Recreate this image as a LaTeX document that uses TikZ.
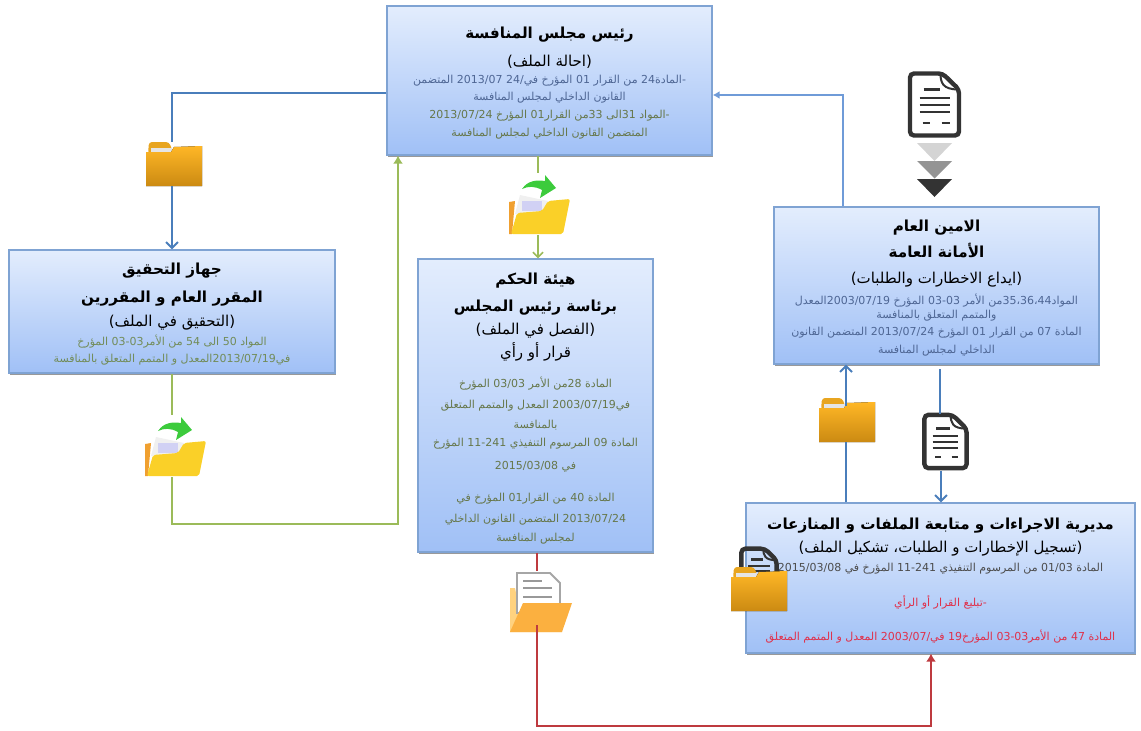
\documentclass[tikz,border=0pt]{standalone}
\usepackage{fontspec}
\usepackage{xcolor}
\usetikzlibrary{shadows,arrows.meta}
\TeXXeTstate=1
\newfontfamily\arfont[Script=Arabic]{DejaVu Sans}
\setlength\lineskiplimit{-100pt}
\setlength\normallineskiplimit{-100pt}
\definecolor{paneltop}{HTML}{E3EDFD}
\definecolor{panelbot}{HTML}{A0C0F6}
\definecolor{panelline}{HTML}{7FA3D3}
\definecolor{linkblue}{HTML}{4A7EBB}
\definecolor{linkpale}{HTML}{6F9BD8}
\definecolor{linkgreen}{HTML}{9BBB59}
\definecolor{linkred}{HTML}{BE3A3F}
\definecolor{txtblue}{HTML}{4E6694}
\definecolor{txtolive}{HTML}{66774A}
\definecolor{txtgreen}{HTML}{728C58}
\definecolor{txtred}{HTML}{E0304A}
\definecolor{docink}{HTML}{333333}
\definecolor{foldtop}{HTML}{FFB726}
\definecolor{foldbot}{HTML}{CB8A12}
\definecolor{foldtab}{HTML}{E8A520}
\definecolor{openyel}{HTML}{FAD028}
\definecolor{openorg}{HTML}{F0A030}
\definecolor{papback}{HTML}{FFD27F}
\definecolor{papfront}{HTML}{FBB040}
\definecolor{arrowgrn}{HTML}{3CCB3C}
\newcommand{\en}[1]{\beginL #1\endL{}}
\newcommand{\ttl}[1]{{\bfseries\fontsize{15.2}{10}\selectfont\rule{0pt}{17pt}#1}}
\newcommand{\sbt}[1]{{\fontsize{15}{10}\selectfont #1}}
\newcommand{\bdy}[2]{{\color{#1}#2}}
\tikzset{
  panel/.style={draw=panelline,line width=1.3pt,top color=paneltop,bottom color=panelbot,
    align=center,inner sep=0pt,drop shadow={shadow xshift=.8pt,shadow yshift=-1.8pt,fill=black,opacity=.4},
    font=\arfont\fontsize{11}{10}\selectfont},
  iconbox/.style={inner sep=0pt,outer sep=0pt},
  bluelink/.style={draw=linkblue,line width=1.9pt,-{Straight Barb[length=6pt,width=12pt]}},
  palelink/.style={draw=linkpale,line width=1.4pt,-{Latex[length=7pt,width=8pt]}},
  greenlink/.style={draw=linkgreen,line width=1.6pt,-{Latex[length=8pt,width=10pt]}},
  barblink/.style={draw=linkgreen,line width=1.6pt,-{Straight Barb[length=5pt,width=10pt]}},
  redlink/.style={draw=linkred,line width=1.6pt,-{Latex[length=8pt,width=10pt]}},
  pics/closedfolder/.style={code={
    \fill[foldtab,rounded corners=3pt] (-26,-10) -- (-25,-22) -- (-5,-22) -- (-1,-12) -- cycle;
    \fill[black!10] (-23,-16) rectangle (-2,-11);
    \fill[top color=foldtop,bottom color=foldbot] (-28,-12) -- (-3,-12) -- (0,-17) -- (28,-18) -- (28,22) -- (-28,22) -- cycle;
  }},
  pics/openfolder/.style={code={
    \fill[openorg] (-31,-2) -- (-25,-3) -- (-28,30) -- (-31,30) -- cycle;
    \fill[black!6] (-20,-9) -- (8,-3) -- (5,8) -- (-25,10) -- cycle;
    \fill[black!25!blue!18] (-18,-3) rectangle (2,7);
    \fill[openyel,rounded corners=2pt]
      (8,-3) -- (30,-5) -- (23,30) -- (-29,30) -- (-23,9) -- (2,7) -- cycle;
    \fill[arrowgrn] (-18,-15) .. controls (-12,-24) and (-3,-24) .. (5,-23) -- (5,-29) -- (16,-16)
      -- (0,-6) -- (2,-14) .. controls (-5,-18) and (-12,-18) .. cycle;
  }},
  pics/paperfolder/.style={code={
    \fill[papback] (-30,-15) -- (-25,-15) -- (-20,10) -- (20,-10) -- (22,29) -- (-30,29) -- cycle;
    \filldraw[draw=black!35,fill=white,line width=1.8pt] (-23,-30) -- (10,-30) -- (20,-20) -- (20,10) -- (-23,10) -- cycle;
    \draw[black!40,line width=1.8pt] (-17,-22) -- (2,-22) (-17,-15) -- (12,-15) (-17,-6) -- (12,-6);
    \fill[papfront] (-17,0) -- (32,0) -- (22,29) -- (-30,29) -- cycle;
  }},
  pics/docicon/.style={code={
    \filldraw[draw=docink,fill=#1,line width=4.4pt,rounded corners=4pt] (-24.5,-31) -- (8,-31) -- (24.5,-15) -- (24.5,31) -- (-24.5,31) -- cycle;
    \draw[docink,line width=2pt] (6,-31) .. controls (6,-22) and (8,-15) .. (24,-15);
    \draw[docink,line width=3pt] (-11,-15.5) -- (5,-15.5);
    \draw[docink,line width=1.9pt] (-15,-6.5) -- (15,-6.5) (-15,.5) -- (15,.5) (-15,7.5) -- (15,7.5);
    \draw[docink,line width=1.9pt] (-12,18.5) -- (-5,18.5) (7,18.5) -- (15,18.5);
  }}
}
\begin{document}
\begin{tikzpicture}[x=1pt,y=-1pt]
    \useasboundingbox (0,0) rectangle (1141,731);
    % panels
    \node[panel,minimum width=325pt,minimum height=149pt] (rais) at (549.5,80.5) {%
      \ttl{\beginR رئيس مجلس المنافسة\endR}\\[18pt]
      \sbt{\beginR (احالة الملف)\endR}\\[7pt]
      \bdy{txtblue}{\beginR -المادة\en{24} من القرار \en{01} المؤرخ في\en{2013/07 /24} المتضمن\endR}\\[7pt]
      \bdy{txtblue}{\beginR القانون الداخلي لمجلس المنافسة\endR}\\[8pt]
      \bdy{txtolive}{\beginR -المواد \en{31}الى \en{33}من القرار\en{01} المؤرخ \en{2013/07/24}\endR}\\[8pt]
      \bdy{txtolive}{\beginR المتضمن القانون الداخلي لمجلس المنافسة\endR}};
    \node[panel,minimum width=326pt,minimum height=123pt] (jihaz) at (172,311.5) {%
      \ttl{\beginR جهاز التحقيق\endR}\\[18pt]
      \ttl{\beginR المقرر العام و المقررين\endR}\\[14pt]
      \sbt{\beginR (التحقيق في الملف)\endR}\\[9pt]
      \bdy{txtgreen}{\beginR المواد \en{50} الى \en{54} من الأمر\en{03-03} المؤرخ\endR}\\[7pt]
      \bdy{txtgreen}{\beginR في\en{2013/07/19}المعدل و المتمم المتعلق بالمنافسة\endR}};
    \node[panel,minimum width=235pt,minimum height=293pt] (hayaa) at (535.5,405.5) {%
      \ttl{\beginR هيئة الحكم\endR}\\[17pt]
      \ttl{\beginR برئاسة رئيس المجلس\endR}\\[13pt]
      \sbt{\beginR (الفصل في الملف)\endR}\\[13pt]
      \sbt{\beginR قرار أو رأي\endR}\\[20pt]
      \bdy{txtolive}{\beginR المادة \en{28}من الأمر \en{03/03} المؤرخ\endR}\\[11pt]
      \bdy{txtolive}{\beginR في\en{2003/07/19} المعدل والمتمم المتعلق\endR}\\[10pt]
      \bdy{txtolive}{\beginR بالمنافسة\endR}\\[8pt]
      \bdy{txtolive}{\beginR المادة \en{09} المرسوم التنفيذي \en{11-241} المؤرخ\endR}\\[13pt]
      \bdy{txtolive}{\beginR في \en{2015/03/08}\endR}\\[22pt]
      \bdy{txtolive}{\beginR المادة \en{40} من القرار\en{01} المؤرخ في\endR}\\[11pt]
      \bdy{txtolive}{\beginR \en{2013/07/24} المتضمن القانون الداخلي\endR}\\[9pt]
      \bdy{txtolive}{\beginR لمجلس المنافسة\endR}};
    \node[panel,minimum width=325pt,minimum height=157pt] (amin) at (936.5,285.5) {%
      \ttl{\beginR الامين العام\endR}\\[16pt]
      \ttl{\beginR الأمانة العامة\endR}\\[16pt]
      \sbt{\beginR (ايداع الاخطارات والطلبات)\endR}\\[11pt]
      \bdy{txtblue}{\beginR المواد\en{35،36،44}من الأمر \en{03-03} المؤرخ \en{2003/07/19}المعدل\endR}\\[4pt]
      \bdy{txtblue}{\beginR والمتمم المتعلق بالمنافسة\endR}\\[7pt]
      \bdy{txtblue}{\beginR المادة \en{07} من القرار \en{01} المؤرخ \en{2013/07/24} المتضمن القانون\endR}\\[8pt]
      \bdy{txtblue}{\beginR الداخلي لمجلس المنافسة\endR}};
    \node[panel,minimum width=389pt,minimum height=150pt] (mudir) at (940.5,578) {%
      \ttl{\beginR مديرية الاجراءات و متابعة الملفات و المنازعات\endR}\\[13pt]
      \sbt{\beginR (تسجيل الإخطارات و الطلبات، تشكيل الملف)\endR}\\[9pt]
      \bdy{black!70}{\beginR المادة \en{01/03} من المرسوم التنفيذي \en{11-241} المؤرخ في \en{2015/03/08}\endR}\\[25pt]
      \bdy{txtred}{\beginR -تبليغ القرار أو الرأي\endR}\\[24pt]
      \bdy{txtred}{\beginR المادة \en{47} من الأمر\en{03-03} المؤرخ\en{19} في\en{/2003/07} المعدل و المتمم المتعلق\endR}};
    % icons on the links
    \node[iconbox,minimum width=56pt,minimum height=44pt] (foldA) at (173,164) {};
    \node[iconbox,minimum width=62pt,minimum height=62pt] (foldB) at (171,446) {};
    \node[iconbox,minimum width=64pt,minimum height=62pt] (foldC) at (538,204) {};
    \node[iconbox,minimum width=64pt,minimum height=62pt] (foldD) at (537,602) {};
    \node[iconbox,minimum width=56pt,minimum height=44pt] (foldE) at (846,420) {};
    \node[iconbox,minimum width=45pt,minimum height=57pt] (docA) at (941,442) {};
    \pic at (174,164) {closedfolder};
    \pic at (176,446) {openfolder};
    \pic at (540,204) {openfolder};
    \pic at (540,603) {paperfolder};
    \pic at (847,420) {closedfolder};
    \pic[scale=.86] at (945.5,441.5) {docicon=white};
    % loose icons
    \pic at (934.5,104.5) {docicon=white};
    \fill[black!17] (917,143) -- (952,143) -- (934.5,161) -- cycle;
    \fill[black!42] (917,161) -- (952,161) -- (934.5,178.5) -- cycle;
    \fill[docink] (917,179) -- (952,179) -- (934.5,197) -- cycle;
    \pic[scale=.72] at (759,571) {docicon=none};
    \pic at (759,589) {closedfolder};
    % links
    \coordinate (cornerA) at (843,95);
    \coordinate (cornerB) at (398,524);
    \coordinate (cornerC) at (931,726);
    \coordinate (startA) at (940,369);
    \draw[linkblue,line width=1.9pt] ([yshift=-12.5pt]rais.west) -| (foldA.north -| jihaz.north);
    \draw[bluelink] (foldA.south -| jihaz.north) -- (jihaz.north);
    \draw[draw=linkgreen,line width=1.6pt] (jihaz.south) -- (foldB.north -| jihaz.south);
    \draw[greenlink] (foldB.south -| jihaz.south) |- (cornerB) -- (cornerB |- rais.south);
    \draw[draw=linkgreen,line width=1.6pt] (rais.south -| foldC) -- (foldC.north);
    \draw[barblink] (foldC.south) -- (hayaa.north -| foldC);
    \draw[draw=linkred,line width=1.6pt] (hayaa.south -| foldD) -- (foldD.north);
    \draw[redlink] ([yshift=8pt]foldD.south) |- (cornerC) -- (cornerC |- mudir.south);
    \draw[palelink] (cornerA |- amin.north) -- (cornerA) -- (cornerA -| rais.east);
    \draw[draw=linkblue,line width=1.9pt] (mudir.north -| foldE) -- (foldE.south);
    \draw[bluelink] ([yshift=-8pt]foldE.north) -- (amin.south -| foldE);
    \draw[draw=linkblue,line width=1.9pt] (startA) -- (startA |- docA.north);
    \draw[bluelink] (docA.south) -- (mudir.north -| docA);
\end{tikzpicture}
\end{document}
